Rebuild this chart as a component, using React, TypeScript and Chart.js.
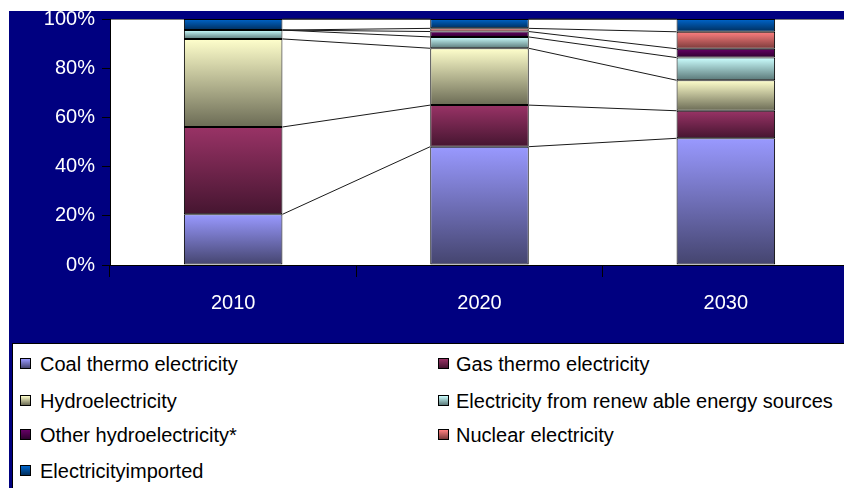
import React, { useEffect, useRef } from "react";
import { Chart, registerables } from "chart.js";

Chart.register(...registerables);

const years = ["2010", "2020", "2030"];
const coal = [20.6, 48.1, 51.5];
const gas = [35.5, 16.9, 11.2];
const hydro = [35.8, 23.1, 12.4];
const renewable = [3.6, 4.6, 9.2];
const otherHydro = [0, 2.2, 3.6];
const nuclear = [0, 1.3, 6.9];
const imported = [4.5, 3.8, 5.2];

const seriesNames = [
  "Coal thermo electricity",
  "Gas thermo electricity",
  "Hydroelectricity",
  "Electricity from renew able energy sources",
  "Other hydroelectricity*",
  "Nuclear electricity",
  "Electricityimported",
];
const seriesData = [coal, gas, hydro, renewable, otherHydro, nuclear, imported];
const topColors = ["#9999FF", "#993366", "#FFFFCC", "#CCFFFF", "#660066", "#FF8080", "#0066CC"];
const bottomColors = ["#44446E", "#451530", "#6B6B55", "#5A7878", "#2E002E", "#7A3A3A", "#002E5C"];

const FONT = "'Liberation Sans', Arial, Helvetica, sans-serif";
const NAVY = "#000080";

const bgPlugin = {
  id: "bgPlugin",
  beforeDraw(chart: any) {
    const { ctx, chartArea, width, height } = chart;
    ctx.save();
    ctx.fillStyle = "#ffffff";
    ctx.fillRect(0, 0, width, height);
    ctx.fillStyle = NAVY;
    ctx.fillRect(9, 11, width - 9, height - 11);
    ctx.fillStyle = "#ffffff";
    ctx.fillRect(chartArea.left, chartArea.top, chartArea.right - chartArea.left, chartArea.bottom - chartArea.top);
    ctx.strokeStyle = "#808080";
    ctx.lineWidth = 1;
    ctx.strokeRect(chartArea.left + 0.5, chartArea.top + 0.5, chartArea.right - chartArea.left, chartArea.bottom - chartArea.top);
    ctx.restore();
  },
};

const seriesLinesPlugin = {
  id: "seriesLines",
  beforeDatasetsDraw(chart: any) {
    const ctx = chart.ctx;
    ctx.save();
    ctx.strokeStyle = "#1a1a1a";
    ctx.lineWidth = 1;
    chart.data.datasets.forEach((_ds: any, di: number) => {
      const meta = chart.getDatasetMeta(di);
      for (let i = 0; i < meta.data.length - 1; i++) {
        const a: any = meta.data[i];
        const b: any = meta.data[i + 1];
        ctx.beginPath();
        ctx.moveTo(a.x + a.width / 2, a.y);
        ctx.lineTo(b.x - b.width / 2, b.y);
        ctx.stroke();
      }
    });
    ctx.restore();
  },
};

function makeBg(di: number) {
  return (c: any) => {
    const chart = c.chart;
    if (c.type !== "data" || !chart.chartArea || !chart.scales || !chart.scales.y) return topColors[di];
    const idx = c.dataIndex;
    let base = 0;
    for (let k = 0; k < di; k++) base += seriesData[k][idx];
    const ys = chart.scales.y;
    const y0 = ys.getPixelForValue(base + seriesData[di][idx]);
    const y1 = ys.getPixelForValue(base);
    if (!isFinite(y0) || !isFinite(y1) || y1 - y0 < 0.5) return topColors[di];
    const g = chart.ctx.createLinearGradient(0, y0, 0, y1);
    g.addColorStop(0, topColors[di]);
    g.addColorStop(1, bottomColors[di]);
    return g;
  };
}

export default function App() {
  const ref = useRef<HTMLCanvasElement | null>(null);

  useEffect(() => {
    if (!ref.current) return;
    Chart.defaults.font.family = FONT;
    const chart = new Chart(ref.current, {
      type: "bar",
      data: {
        labels: years,
        datasets: seriesData.map((d, di) => ({
          label: seriesNames[di],
          data: d,
          backgroundColor: makeBg(di),
          borderColor: "#000000",
          borderWidth: 1,
          borderSkipped: false,
          barPercentage: 0.4,
          categoryPercentage: 1,
        })),
      },
      options: {
        responsive: false,
        animation: false,
        devicePixelRatio: 1,
        layout: { padding: { left: 0, top: 19, right: 3, bottom: 163 } },
        plugins: { legend: { display: false }, tooltip: { enabled: false } },
        scales: {
          x: {
            stacked: true,
            offset: true,
            grid: { display: true, drawOnChartArea: false, drawTicks: true, tickLength: 12, color: "#000000", offset: true },
            border: { display: true, color: "#000000", width: 1 },
            ticks: { color: "#ffffff", font: { size: 20, family: FONT }, padding: 14 },
            afterFit: (s: any) => { s.height = 60; },
          },
          y: {
            stacked: true,
            min: 0,
            max: 100,
            grid: { display: true, drawOnChartArea: false, drawTicks: true, tickLength: 8, color: "#000000" },
            border: { display: true, color: "#000000", width: 1 },
            ticks: {
              stepSize: 20,
              color: "#ffffff",
              font: { size: 20, family: FONT },
              padding: 7,
              callback: (v: any) => v + "%",
            },
            afterFit: (s: any) => { s.width = 110; },
          },
        },
      },
      plugins: [bgPlugin, seriesLinesPlugin],
    } as any);
    return () => chart.destroy();
  }, []);

  const rowCenters = [364, 401, 435, 471];
  const colMarker = [20, 438];
  const colText = [40, 456];

  return (
    <div style={{ position: "fixed", left: 0, top: 0, width: 844, height: 488, overflow: "hidden", background: "#fff" }}>
      <canvas ref={ref} width={852} height={488} style={{ position: "absolute", left: 0, top: 0, width: 852, height: 488 }} />
      <div
        style={{
          position: "absolute",
          left: 12,
          top: 343,
          width: 850,
          height: 160,
          background: "#ffffff",
          border: "1px solid #000",
          boxSizing: "border-box",
        }}
      />
      {seriesNames.map((name, i) => {
        const row = Math.floor(i / 2);
        const col = i % 2;
        const cy = rowCenters[row];
        return (
          <React.Fragment key={name}>
            <div
              style={{
                position: "absolute",
                left: colMarker[col],
                top: cy - 6,
                width: 11,
                height: 11,
                boxSizing: "border-box",
                border: "1px solid #000",
                background: `linear-gradient(${topColors[i]}, ${bottomColors[i]})`,
              }}
            />
            <div
              style={{
                position: "absolute",
                left: colText[col],
                top: cy - 12,
                height: 24,
                lineHeight: "24px",
                fontSize: 20,
                fontFamily: FONT,
                color: "#000",
                whiteSpace: "nowrap",
              }}
            >
              {name}
            </div>
          </React.Fragment>
        );
      })}
    </div>
  );
}
